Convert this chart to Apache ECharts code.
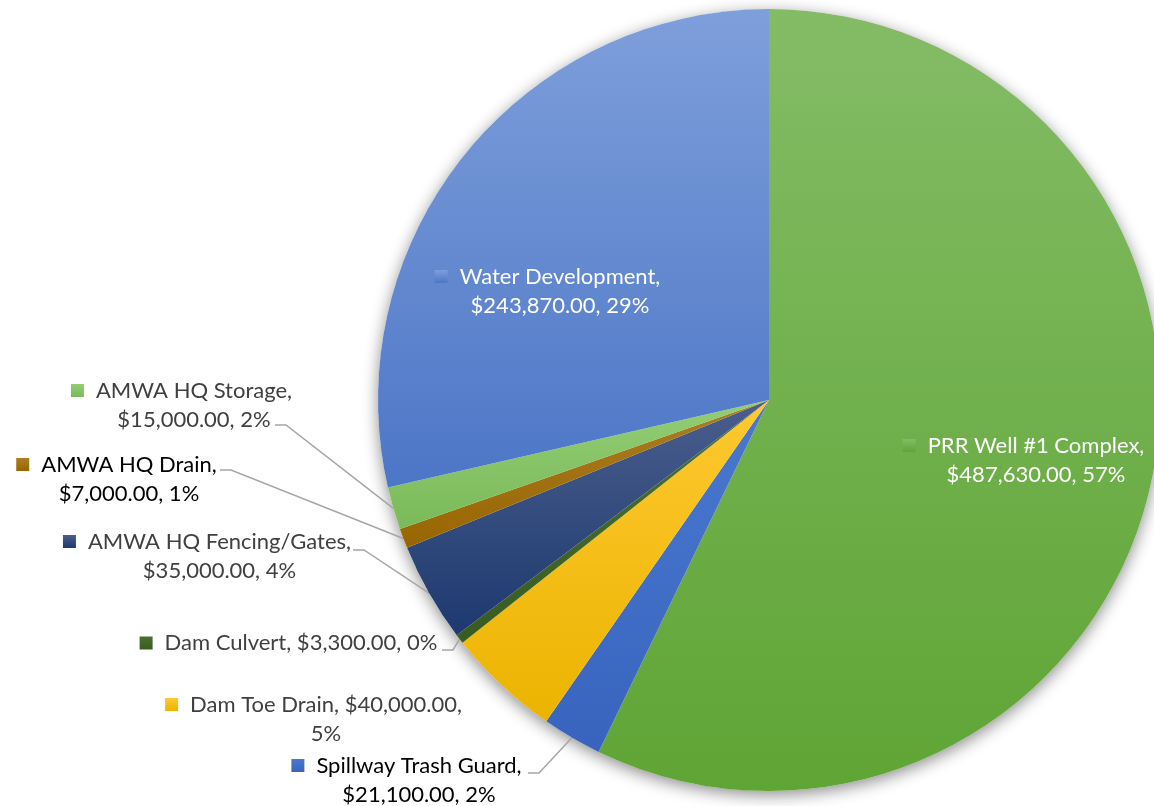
<!DOCTYPE html>
<html>
<head>
<meta charset="utf-8">
<script src="https://cdn.jsdelivr.net/npm/echarts@6/dist/echarts.min.js"></script>
<style>
  html, body { margin: 0; padding: 0; background: #ffffff; }
  #chart { width: 1154px; height: 806px; }
</style>
</head>
<body>
<div id="chart"></div>
<script>
// Project cost breakdown, clockwise from 12 o'clock
const categories = [
  'PRR Well #1 Complex',
  'Spillway Trash Guard',
  'Dam Toe Drain',
  'Dam Culvert',
  'AMWA HQ Fencing/Gates',
  'AMWA HQ Drain',
  'AMWA HQ Storage',
  'Water Development'
];
const amounts = [487630, 21100, 40000, 3300, 35000, 7000, 15000, 243870];

// Slice fills: [top, bottom] of a vertical gradient
const sliceColors = [
  ['#84bc66', '#5fa535'],
  ['#4a78cf', '#3864bd'],
  ['#ffc830', '#ebb400'],
  ['#4a7030', '#385c20'],
  ['#4a5e8c', '#1d396f'],
  ['#ab7d24', '#986600'],
  ['#93cd74', '#7aba5a'],
  ['#7f9fdb', '#4c76c6']
];

// Label placement: text centre (x), block centre (y), and where the leader line meets the text
const labelSpots = {
  'PRR Well #1 Complex':   { x: 1036, y: 460, wrap: 'name', color: '#ffffff' },
  'Water Development':     { x: 560,  y: 291, wrap: 'name', color: '#ffffff' },
  'AMWA HQ Storage':       { x: 194,  y: 405, wrap: 'name', color: '#404040', end: [275, 425] },
  'AMWA HQ Drain':         { x: 129,  y: 479, wrap: 'name', color: '#000000', end: [220, 470] },
  'AMWA HQ Fencing/Gates': { x: 219.5, y: 556, wrap: 'name', color: '#404040', end: [353, 550] },
  'Dam Culvert':           { x: 301,  y: 643, wrap: 'none', color: '#404040', end: [442, 650] },
  'Dam Toe Drain':         { x: 326,  y: 719, wrap: 'pct',  color: '#404040' },
  'Spillway Trash Guard':  { x: 419,  y: 780, wrap: 'name', color: '#000000', end: [528, 773] }
};

const FONT = 'Lato';
const FONT_SIZE = 22;
const LINE_H = 29;
const KEY = 13;
const KEY_GAP = 12;

const total = amounts.reduce((a, b) => a + b, 0);
const money = v => '$' + v.toLocaleString('en-US', { minimumFractionDigits: 2, maximumFractionDigits: 2 });

function gradient(pair) {
  return {
    type: 'linear', x: 0, y: 0, x2: 0, y2: 1,
    colorStops: [{ offset: 0, color: pair[0] }, { offset: 1, color: pair[1] }]
  };
}

const pieData = categories.map((name, i) => {
  const spot = labelSpots[name];
  const pct = Math.round(amounts[i] / total * 100) + '%';
  const val = money(amounts[i]);
  let text;
  if (spot.wrap === 'none') {
    text = '{sq|}{gap|}{t|' + name + ', ' + val + ', ' + pct + '}';
  } else if (spot.wrap === 'pct') {
    text = '{sq|}{gap|}{t|' + name + ', ' + val + ',}\n{pad|}{t|' + pct + '}';
  } else {
    text = '{sq|}{gap|}{t|' + name + ',}\n{pad|}{t|' + val + ', ' + pct + '}';
  }
  const inside = spot.color === '#ffffff';
  return {
    name: name,
    value: amounts[i],
    itemStyle: { color: gradient(sliceColors[i]) },
    label: {
      show: true,
      position: inside ? 'inside' : 'outside',
      formatter: text,
      align: 'center',
      verticalAlign: 'middle',
      lineHeight: LINE_H,
      rich: {
        sq: { width: KEY, height: KEY, backgroundColor: gradient(sliceColors[i]), lineHeight: LINE_H },
        gap: { width: KEY_GAP, lineHeight: LINE_H },
        pad: { width: KEY + KEY_GAP, lineHeight: LINE_H },
        t: { fontFamily: FONT, fontSize: FONT_SIZE, color: spot.color, lineHeight: LINE_H }
      }
    },
    labelLine: { show: !!spot.end }
  };
});

const chart = echarts.init(document.getElementById('chart'), null, { renderer: 'canvas' });

chart.setOption({
  animation: false,
  backgroundColor: '#ffffff',
  series: [
    {
      // soft drop shadow under the whole disc
      type: 'pie',
      silent: true,
      z: 1,
      center: [769, 400],
      radius: 391,
      startAngle: 90,
      label: { show: false },
      labelLine: { show: false },
      emphasis: { disabled: true },
      itemStyle: {
        color: '#ffffff',
        borderWidth: 0,
        shadowBlur: 16,
        shadowOffsetY: 4,
        shadowColor: 'rgba(0,0,0,0.45)'
      },
      data: [{ name: 'total', value: total }]
    },
    {
      type: 'pie',
      z: 2,
      center: [769, 400],
      radius: 391,
      startAngle: 90,
      clockwise: true,
      avoidLabelOverlap: false,
      emphasis: { disabled: true },
      itemStyle: { borderWidth: 0 },
      labelLine: {
        show: true,
        length: 10,
        length2: 10,
        smooth: false,
        lineStyle: { color: '#a6a6a6', width: 1.5 }
      },
      labelLayout: function (params) {
        const name = categories[params.dataIndex];
        const spot = labelSpots[name];
        // every line is offset by the key square + gap, so centre the block left of the text centre
        const shift = (KEY + KEY_GAP) / 2;
        const out = {
          x: spot.x - shift,
          y: spot.y,
          align: 'center',
          verticalAlign: 'middle'
        };
        if (spot.end && params.labelLinePoints) {
          const edge = params.labelLinePoints[0];
          out.labelLinePoints = [
            [edge[0], edge[1]],
            [spot.end[0] + 11, spot.end[1]],
            [spot.end[0], spot.end[1]]
          ];
        }
        return out;
      },
      data: pieData
    }
  ]
});
</script>
</body>
</html>
